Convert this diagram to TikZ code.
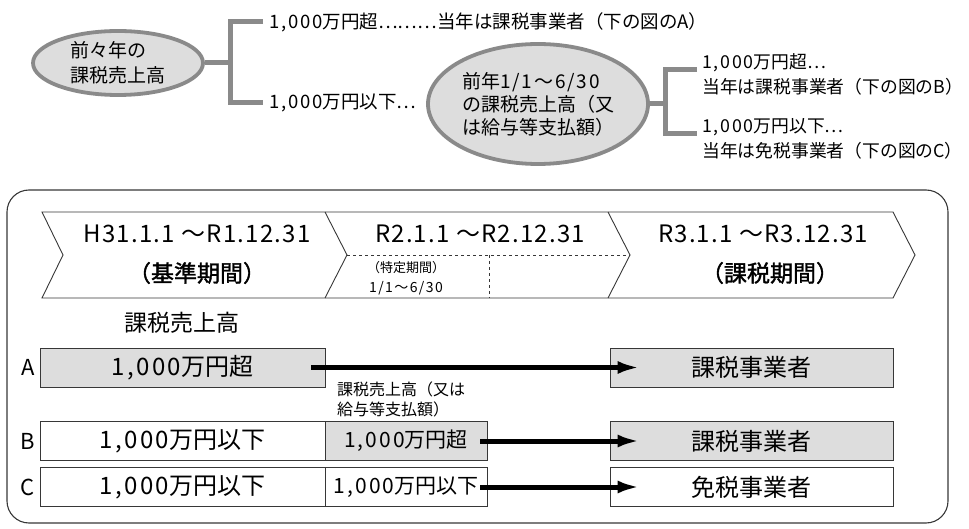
\documentclass[tikz,border=0pt]{standalone}
\usepackage{fontspec}
\setmainfont{Noto Sans CJK JP}
\newfontfamily\mdfont{Noto Sans CJK JP}[FakeBold=1.5]
\usepackage{tikz}
\usetikzlibrary{shapes.geometric}
\usetikzlibrary{arrows.meta}
\definecolor{lg}{RGB}{221,221,221}
\definecolor{og}{RGB}{138,138,138}
\definecolor{ln}{RGB}{55,55,55}
\newcommand\nm[1]{{\addfontfeatures{LetterSpace=10}#1}}
\tikzstyle{oval}=[ellipse, draw=og, line width=3.8pt, fill=lg, inner sep=0pt, align=left, font=\fontsize{19}{25}\selectfont]
\tikzstyle{br}=[draw=og, line width=5pt]
\tikzstyle{txt}=[anchor=west, inner xsep=6pt, inner ysep=0pt, align=left, font=\fontsize{18.5}{25}\selectfont]
\tikzstyle{hd}=[inner sep=0pt, font=\fontsize{24}{28}\selectfont\addfontfeatures{LetterSpace=5}]
\tikzstyle{hdb}=[inner sep=0pt, font=\fontsize{23}{26}\mdfont]
\tikzstyle{sm}=[inner sep=0pt, font=\fontsize{13}{16}\selectfont]
\tikzstyle{lab}=[inner sep=0pt, font=\fontsize{22}{26}\selectfont]
\tikzstyle{cw}=[draw=ln, line width=0.9pt, minimum height=39pt, inner sep=0pt, font=\fontsize{24}{28}\selectfont]
\tikzstyle{cg}=[cw, fill=lg]
\tikzstyle{mid}=[minimum width=162pt, font=\fontsize{21}{26}\selectfont]
\tikzstyle{chev}=[draw=ln, line width=0.9pt, line join=miter]
\tikzstyle{sep}=[draw=ln, line width=0.7pt, dashed]
\tikzstyle{arr}=[line width=5pt, -{Latex[length=22pt, width=13pt]}]

\begin{document}
\begin{tikzpicture}[x=1pt, y=-1pt]
	\useasboundingbox (0,0) rectangle (969,529);
	% sales two years before
	\draw (118,63) node[oval, minimum width=170pt, minimum height=64pt] (e1) {前々年の\\課税売上高};
	\draw (263,22) node[txt] (ta) {\nm{1,000}万円超………当年は課税事業者（下の図のA）};
	\draw (263,103) node[txt] (tb) {\nm{1,000}万円以下…};
	\coordinate (j1) at (230,63);
	\draw[br] (e1) -- (j1);
	\draw[br] (ta.west) -| (j1) |- (tb.west);
	%
	\draw (538,104) node[oval, minimum width=220pt, minimum height=120pt, font=\fontsize{19}{23}\selectfont] (e2) {前年\nm{1/1〜6/30}\\の課税売上高（又\\は給与等支払額）};
	\draw (697,74.5) node[txt, inner xsep=5pt, font=\fontsize{17.8}{25}\selectfont] (tc) {\nm{1,000}万円超…\\当年は課税事業者（下の図のB）};
	\draw (697,139) node[txt, inner xsep=5pt, font=\fontsize{17.8}{25}\selectfont] (td) {\nm{1,000}万円以下…\\当年は免税事業者（下の図のC）};
	\coordinate (j2) at (665,104);
	\draw[br] (e2) -- (j2);
	\draw[br] ([yshift=4.5pt]tc.west) -| (j2) |- ([yshift=5pt]td.west);
	%
	\draw[draw=ln, line width=1.1pt, rounded corners=22pt] (7,190) rectangle (948,523);
	\coordinate (p1) at (347,255);
	\coordinate (p2) at (630,255);
	\draw[chev] (42,212) -- (893,212) -- (915,255) -- (893,298) -- (42,298) -- (63,255) -- cycle;
	\draw[chev] (325,212) -- (p1) -- (325,298);
	\draw[chev] (608,212) -- (p2) -- (608,298);
	\draw[sep] (p1) -- (p2);
	\draw[sep] (489,255) -- (489,298);
	\draw (197,234) node[hd] (h1) {H31.1.1 〜R1.12.31};
	\draw (197,273) node[hdb] (k1) {（基準期間）};
	\draw (480,234) node[hd] (h2) {R2.1.1 〜R2.12.31};
	\draw (406,268) node[sm] (k2) {（特定期間）};
	\draw (406,288) node[sm, font=\fontsize{14}{16}\selectfont] (d2) {\nm{1/1〜6/30}};
	\draw (763,234) node[hd] (h3) {R3.1.1 〜R3.12.31};
	\draw (770,273) node[hdb] (k3) {（課税期間）};
	%
	\draw (182,323) node[hd, font=\fontsize{23}{26}\selectfont] (uh) {課税売上高};
	\draw (182.5,367.5) node[cg, minimum width=285pt] (a1) {\nm{1,000}万円超};
	\draw (751.5,367.5) node[cg, minimum width=283pt] (a3) {課税事業者};
	\draw (337,382) node[sm, anchor=north west, align=left, font=\fontsize{16}{20}\selectfont] (nb) {課税売上高（又は\\給与等支払額）};
	\draw (182.5,441) node[cw, minimum width=285pt] (b1) {\nm{1,000}万円以下};
	\draw (406,441) node[cg, mid] (b2) {\nm{1,000}万円超};
	\draw (751.5,441) node[cg, minimum width=283pt] (b3) {課税事業者};
	\draw (182.5,487) node[cw, minimum width=285pt] (c1) {\nm{1,000}万円以下};
	\draw (406,487) node[cw, mid] (c2) {\nm{1,000}万円以下};
	\draw (751.5,487) node[cw, minimum width=283pt] (c3) {免税事業者};
	\draw (28,367.5) node[lab] (la) {A};
	\draw (28,441) node[lab] (lb) {B};
	\draw (28,487) node[lab] (lc) {C};
	%
	\draw[arr] ([xshift=-14pt]a1.east) -- ([xshift=30pt]a3.west);
	\draw[arr] ([xshift=-7pt]b2.east) -- ([xshift=30pt]b3.west);
	\draw[arr] ([xshift=-7pt]c2.east) -- ([xshift=30pt]c3.west);
\end{tikzpicture}
\end{document}
